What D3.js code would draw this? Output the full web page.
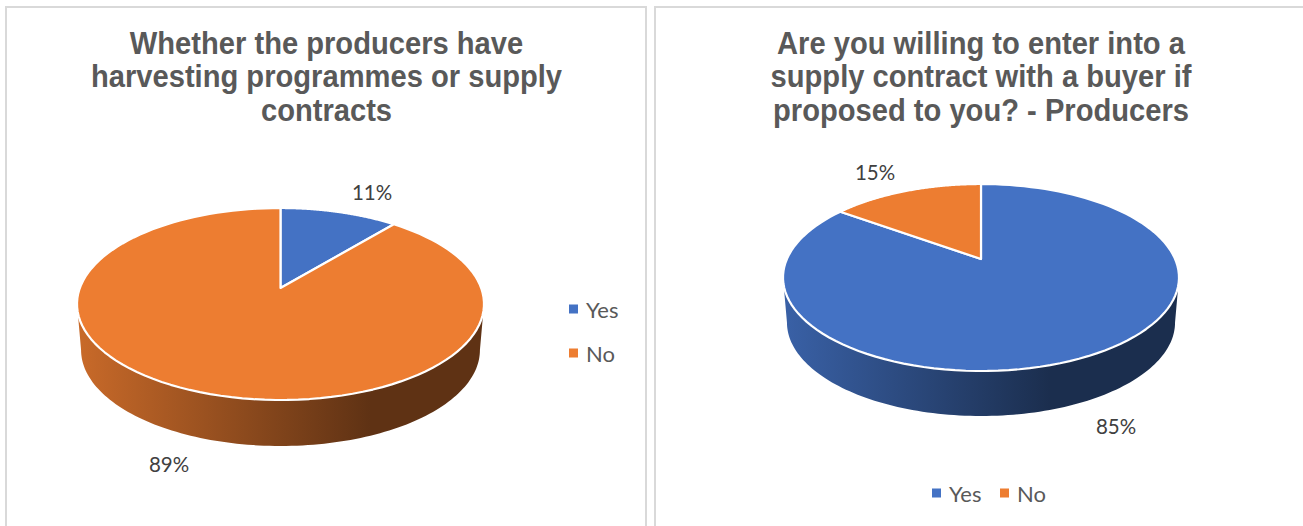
<!DOCTYPE html>
<html>
<head>
<meta charset="utf-8">
<script src="https://cdn.jsdelivr.net/npm/d3@7/dist/d3.min.js"></script>
<style>
html,body{margin:0;padding:0;background:#fff;overflow:hidden}
svg{display:block}
</style>
</head>
<body>
<svg id="c" width="1303" height="526"></svg>
<script>
const categories = ["Yes", "No"];
const colours = ["#4472C4", "#ED7D31"];
const leftTitle = ["Whether the producers have", "harvesting programmes or supply", "contracts"];
const rightTitle = ["Are you willing to enter into a", "supply contract with a buyer if", "proposed to you? - Producers"];
const leftValues = [11, 89];
const rightValues = [85, 15];

const svg = d3.select("#c");
const defs = svg.append("defs");
const TITLE_FONT = "'Liberation Sans', Arial, sans-serif";
const BODY_FONT = "Lato, 'Noto Sans', sans-serif";

// Panel frames: open at the bottom, the right one also runs off the page
const frame = svg.append("g").attr("fill", "none").attr("stroke", "#d9d9d9").attr("stroke-width", 2);
frame.append("path").attr("d", "M6,526V7H646V526");
frame.append("path").attr("d", "M655,526V7H1303");

// Tilted disc: a unit circle through a projective map, so the hub sits above the ellipse centre
function discProjection(p, dy = 0, shrink = 1) {
  const k = (2 * p.hub - p.top - p.bottom) / (p.top - p.bottom);
  const a = p.hub - p.top - p.top * k;
  const R = p.rx * Math.sqrt(1 - k * k) * shrink;
  const fn = theta => {
    const u = Math.sin(theta), v = Math.cos(theta), w = 1 + k * v;
    return [p.cx + R * u / w, (p.hub - a * v) / w + dy];
  };
  fn.k = k;
  return fn;
}

function drawPie(cfg) {
  const g = svg.append("g");
  const line = d3.line();
  const arcs = d3.pie().sort(null)(cfg.values);
  const top = discProjection(cfg.disc);
  const low = discProjection(cfg.disc, cfg.depth, cfg.shrink);
  const sample = (a0, a1) => d3.range(0, 121).map(d3.scaleLinear().domain([0, 120]).range([a0, a1]));

  // Front wall of the disc, shaded from left to right
  const edge = Math.acos(-top.k);
  arcs.forEach((d, i) => {
    const a0 = Math.max(d.startAngle, edge), a1 = Math.min(d.endAngle, 2 * Math.PI - edge);
    if (a1 <= a0) return;
    const id = cfg.id + "-wall-" + i;
    const grad = defs.append("linearGradient").attr("id", id).attr("gradientUnits", "userSpaceOnUse")
      .attr("x1", cfg.shade[0]).attr("x2", cfg.shade[1]).attr("y1", 0).attr("y2", 0);
    grad.append("stop").attr("offset", 0).attr("stop-color", d3.interpolateRgb(colours[i], "#000")(0.16));
    grad.append("stop").attr("offset", 1).attr("stop-color", d3.interpolateRgb(colours[i], "#000")(0.6));
    const ang = sample(a0, a1);
    g.append("path")
      .attr("d", line(ang.map(top).concat(ang.slice().reverse().map(low))) + "Z")
      .attr("fill", `url(#${id})`);
  });

  // Top surface
  arcs.forEach((d, i) => {
    const pts = [[cfg.disc.cx, cfg.disc.hub]].concat(sample(d.startAngle, d.endAngle).map(top));
    g.append("path").attr("d", line(pts) + "Z")
      .attr("fill", colours[i]).attr("stroke", "#fff").attr("stroke-width", 2.2).attr("stroke-linejoin", "round");
  });

  // Percentage labels
  arcs.forEach((d, i) => {
    g.append("text").attr("x", cfg.labels[i][0]).attr("y", cfg.labels[i][1])
      .attr("text-anchor", "middle").attr("dominant-baseline", "central")
      .attr("font-family", BODY_FONT).attr("font-size", 20.5).attr("fill", "#404040")
      .text(d.value + "%");
  });

  // Title, condensed to the width of the narrower heading face
  const title = g.append("text").attr("text-anchor", "middle")
    .attr("transform", `translate(${cfg.titleX},0) scale(0.94,1)`)
    .attr("font-family", TITLE_FONT).attr("font-weight", 700).attr("font-size", 31).attr("fill", "#595959");
  cfg.title.forEach((t, i) => {
    title.append("tspan").attr("x", 0).attr("y", cfg.titleY + i * 33.5).text(t);
  });

  // Legend
  categories.forEach((c, i) => {
    const [x, y] = cfg.legend[i];
    g.append("rect").attr("x", x).attr("y", y - 4.5).attr("width", 9).attr("height", 9).attr("fill", colours[i]);
    g.append("text").attr("x", x + 17).attr("y", y).attr("dominant-baseline", "central")
      .attr("font-family", BODY_FONT).attr("font-size", 22).attr("fill", "#595959").text(c);
  });
}

drawPie({
  id: "left", values: leftValues, title: leftTitle, titleX: 326.5, titleY: 54,
  disc: {cx: 280.5, hub: 288, top: 208, bottom: 400, rx: 203.5},
  depth: 46, shrink: 0.98, shade: [82, 370],
  labels: [[372, 192], [169, 464]],
  legend: [[569, 309], [569, 353]]
});
drawPie({
  id: "right", values: rightValues, title: rightTitle, titleX: 981, titleY: 54,
  disc: {cx: 981, hub: 259, top: 184, bottom: 371, rx: 198},
  depth: 45, shrink: 0.98, shade: [788, 1050],
  labels: [[1116, 426], [875, 172]],
  legend: [[932, 493], [1000, 493]]
});
</script>
</body>
</html>
